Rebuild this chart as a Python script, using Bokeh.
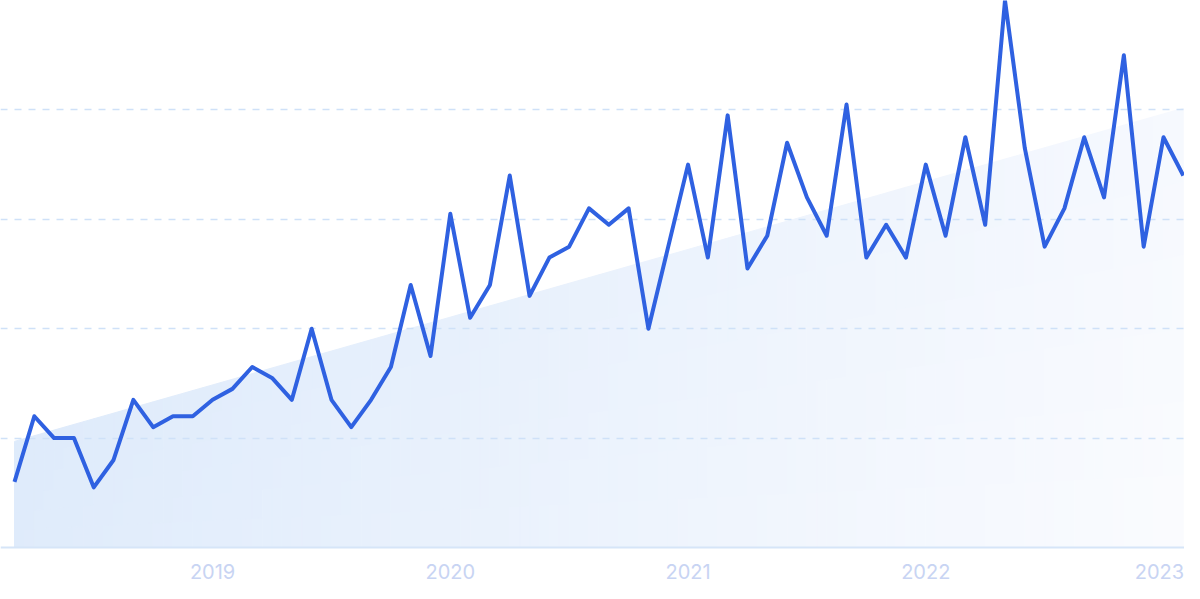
import numpy as np
from bokeh.plotting import figure
from bokeh.models import Range1d, FixedTicker, ColumnDataSource, Span
from bokeh.core.properties import value
from bokeh.embed import file_html
from bokeh.resources import INLINE

# ---- data -------------------------------------------------------------
years = [2018, 2019, 2020, 2021, 2022, 2023]
months = [f"{y}-{m:02d}" for y in years for m in range(1, 13)][2:62]   # 2018-03 .. 2023-02
interest = [12, 24, 20, 20, 11, 16, 27, 22, 24, 24,
            27, 29, 33, 31, 27, 40, 27, 22, 27, 33,
            48, 35, 61, 42, 48, 68, 46, 53, 55, 62,
            59, 62, 40, 55, 70, 53, 79, 51, 57, 74,
            64, 57, 81, 53, 59, 53, 70, 57, 75, 59,
            100, 73, 55, 62, 75, 64, 90, 55, 75, 68]
trend_start = 19.4
trend_end = 80.3
tick_labels = ["2019", "2020", "2021", "2022", "2023"]
grid_values = [20, 40, 60, 80, 100]

# ---- positions ----------------------------------------------------------
idx = np.arange(len(months))
tick_pos = [months.index(f"{t}-01") for t in tick_labels]
n_last = len(months) - 1

p = figure(width=1184, height=583, output_backend="svg", toolbar_location=None,
           x_range=Range1d(-0.7067, 59.061), y_range=Range1d(-6.58, 100.0),
           x_axis_location=None, y_axis_location=None,
           min_border_left=0, min_border_right=0,
           min_border_top=0, min_border_bottom=0)
p.outline_line_color = None
p.background_fill_color = "white"
p.border_fill_color = "white"

# ---- trend area with a soft diagonal gradient ----------------------------
c0 = np.array([219, 233, 251])
c1 = np.array([251, 252, 255])
sub = 2
bands = 6
xs, ys, cols = [], [], []
xgrid = np.linspace(0, n_last, n_last * sub + 1)
tv = trend_start + (trend_end - trend_start) * xgrid / n_last
for i in range(len(xgrid) - 1):
    xa, xb = xgrid[i], xgrid[i + 1]
    ta, tb = tv[i], tv[i + 1]
    for j in range(bands):
        f0, f1 = j / bands, (j + 1) / bands
        xs.append([xa, xb, xb, xa])
        ys.append([ta * f0, tb * f0, tb * f1, ta * f1])
        xc = (xa + xb) / 2 / n_last
        vc = (ta + tb) / 2 * (f0 + f1) / 2
        yfrac = 1 - vc / trend_end
        s = min(1.0, max(0.0, 0.85 * xc + 0.15 * yfrac))
        c = (c0 + (c1 - c0) * s).astype(int)
        cols.append("#%02x%02x%02x" % tuple(c))
src = ColumnDataSource(dict(xs=xs, ys=ys, c=cols))
p.patches("xs", "ys", source=src, fill_color="c", line_color="c", line_width=1, level="image")

# ---- grid / baseline -----------------------------------------------------
p.xgrid.visible = False
p.ygrid.ticker = FixedTicker(ticks=grid_values)
p.ygrid.grid_line_color = "#cfe1f8"
p.ygrid.grid_line_dash = "7 7"
p.ygrid.grid_line_width = 1.5
p.add_layout(Span(location=0, dimension="width", line_color="#d6e5f8", line_width=2))

# ---- main line -----------------------------------------------------------
p.line(idx, interest, line_color="#2f61e1", line_width=4, line_join="round")

# ---- year labels ------------------------------------------------------------
lab_src = ColumnDataSource(dict(x=tick_pos, y=[-4.35] * len(tick_pos), t=tick_labels,
                                dx=[0, 0, 0, 0, -4]))
p.text("x", "y", text="t", source=lab_src, x_offset="dx",
       text_align="center", text_baseline="middle",
       text_color="#c8d4f3", text_font=value("Inter"), text_font_size="20px")

open("out.html", "w").write(file_html(p, INLINE))
